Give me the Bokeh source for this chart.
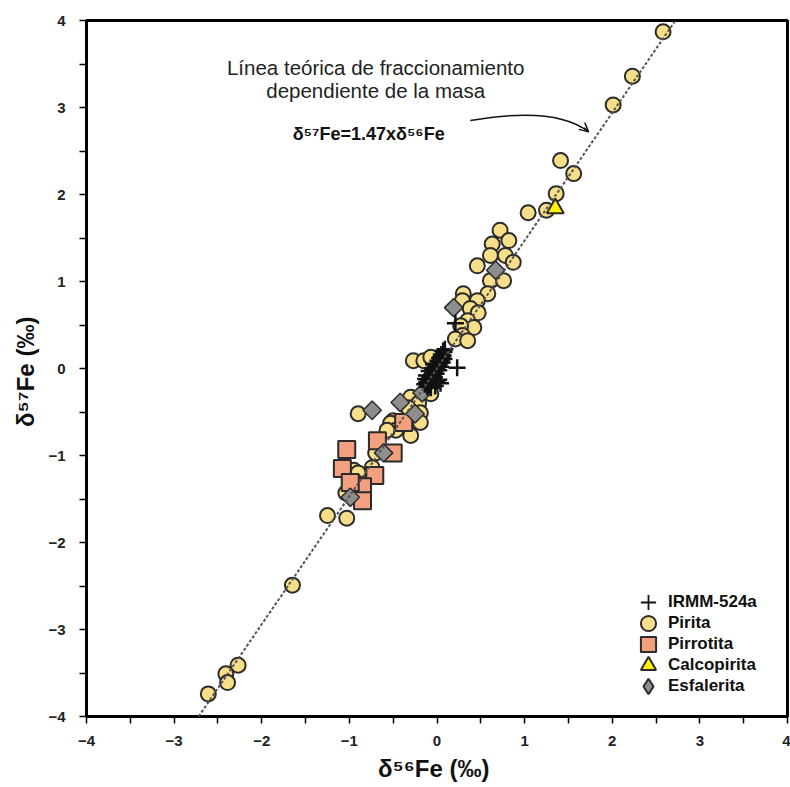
import math
from bokeh.plotting import figure
from bokeh.models import Range1d, FixedTicker, Slope, Legend, LegendItem, Label, Arrow, OpenHead
from bokeh.embed import file_html
from bokeh.resources import INLINE

# δ56Fe / δ57Fe (‰) by mineral
pirita_x = [2.58, 2.23, 2.01, 1.41, 1.56, 1.36, 1.25, 1.04, 0.72, 0.82, 0.63, 0.61, 0.78, 0.87,
            0.46, 0.61, 0.76, 0.58, 0.30, 0.29, 0.46, 0.38, 0.47, 0.35, 0.42, 0.27, 0.29, 0.21,
            0.35, -0.27, -0.15, -0.07, -0.10, -0.07, -0.30, -0.21, -0.33, -0.19, -0.19, -0.50,
            -0.53, -0.47, -0.57, -0.30, -0.90, -0.70, -0.74, -0.95, -0.90, -0.91, -1.04, -1.25,
            -1.03, -1.65, -2.27, -2.41, -2.39, -2.61]
pirita_y = [3.87, 3.36, 3.03, 2.39, 2.24, 2.01, 1.82, 1.79, 1.59, 1.47, 1.43, 1.30, 1.30, 1.22,
            1.18, 1.01, 1.01, 0.86, 0.86, 0.78, 0.78, 0.69, 0.64, 0.55, 0.47, 0.49, 0.38, 0.34,
            0.32, 0.09, 0.09, 0.13, -0.23, -0.29, -0.33, -0.40, -0.45, -0.51, -0.62, -0.60,
            -0.63, -0.71, -0.71, -0.77, -0.52, -0.97, -1.14, -1.17, -1.20, -1.32, -1.43, -1.69,
            -1.72, -2.49, -3.41, -3.51, -3.61, -3.74]

pirrotita_x = [-1.03, -1.08, -0.68, -0.50, -0.38, -0.71, -0.85, -0.85, -0.99]
pirrotita_y = [-0.93, -1.15, -0.83, -0.97, -0.62, -1.23, -1.36, -1.52, -1.31]

esfalerita_x = [0.67, 0.19, -0.17, -0.42, -0.74, -0.25, -0.61, -0.99]
esfalerita_y = [1.13, 0.70, -0.28, -0.39, -0.48, -0.52, -0.97, -1.48]

calcopirita_x = [1.35]
calcopirita_y = [1.84]

irmm_x = [-0.14, -0.12, -0.11, -0.10, -0.09, -0.08, -0.08, -0.07, -0.06, -0.06, -0.05, -0.05,
          -0.04, -0.04, -0.03, -0.03, -0.02, -0.02, -0.01, -0.01, 0.00, 0.00, 0.01, 0.01, 0.02,
          0.02, 0.03, 0.03, 0.04, 0.05, 0.05, 0.06, 0.07, 0.08, -0.10, -0.13, 0.00, 0.23, 0.21,
          -0.02, -0.11, -0.08, -0.06, -0.03, -0.01, 0.02, 0.04, 0.06, 0.08, -0.12, -0.09, -0.05,
          -0.02, 0.01, 0.03, 0.05, 0.07, 0.09, 0.04, -0.07, 0.02, -0.04]
irmm_y = [-0.18, -0.16, -0.17, -0.14, -0.12, -0.10, -0.13, -0.09, -0.07, -0.10, -0.06, -0.08,
          -0.05, -0.03, -0.04, -0.01, -0.02, 0.01, 0.00, 0.02, 0.01, 0.03, 0.03, 0.05, 0.04,
          0.06, 0.06, 0.08, 0.07, 0.10, 0.12, 0.13, 0.15, 0.19, -0.19, -0.12, -0.15, 0.01, 0.52,
          -0.20, -0.21, -0.18, -0.14, -0.10, -0.06, -0.02, 0.02, 0.07, 0.11, -0.08, -0.03, 0.00,
          0.05, 0.09, 0.12, 0.16, 0.20, 0.22, -0.17, -0.22, -0.13, 0.05]

# mass-dependent fractionation line
slope_57_56 = 1.47

major_ticks = [-4, -3, -2, -1, 0, 1, 2, 3, 4]
minor_ticks = [-3.5, -2.5, -1.5, -0.5, 0.5, 1.5, 2.5, 3.5]

FONT = "Liberation Sans"
EDGE = "#2b2b2b"

p = figure(width=790, height=787, x_range=Range1d(-4, 4), y_range=Range1d(-4, 4),
           output_backend="svg", toolbar_location=None,
           min_border_left=86, min_border_right=3, min_border_top=20, min_border_bottom=71)
p.background_fill_color = "white"
p.border_fill_color = "white"
p.outline_line_color = "black"
p.outline_line_width = 3
p.xgrid.visible = False
p.ygrid.visible = False

for ax in (p.xaxis[0], p.yaxis[0]):
    ax.ticker = FixedTicker(ticks=major_ticks, minor_ticks=minor_ticks)
    ax.axis_line_width = 3
    ax.axis_line_color = "black"
    ax.major_tick_line_color = "black"
    ax.minor_tick_line_color = "black"
    ax.major_tick_line_width = 1.5
    ax.minor_tick_line_width = 1.5
    ax.major_tick_in = 0
    ax.minor_tick_in = 0
    ax.major_tick_out = 7
    ax.minor_tick_out = 7
    ax.major_label_text_font = FONT
    ax.major_label_text_font_style = "bold"
    ax.major_label_text_font_size = "15px"
    ax.major_label_text_color = "#222222"
    ax.axis_label_text_font = FONT
    ax.axis_label_text_font_style = "bold"
    ax.axis_label_text_font_size = "24px"
    ax.axis_label_text_color = "#111111"

p.xaxis.axis_label = "δ⁵⁶Fe  (‰)"
p.yaxis.axis_label = "δ⁵⁷Fe  (‰)"
p.xaxis.major_label_standoff = 12
p.yaxis.major_label_standoff = 14
p.xaxis.axis_label_standoff = 6
p.yaxis.axis_label_standoff = 6

p.add_layout(Slope(gradient=slope_57_56, y_intercept=0, line_color="#555555",
                   line_width=2, line_dash="3 2"))

r_pir = p.scatter(pirita_x, pirita_y, marker="circle", size=15, fill_color="#F6DF88",
                  line_color=EDGE, line_width=2)
r_pirr = p.scatter(pirrotita_x, pirrotita_y, marker="square", size=17, fill_color="#F2A07E",
                   line_color=EDGE, line_width=2)
r_esf = p.scatter(esfalerita_x, esfalerita_y, marker="square", angle=math.pi / 4, size=13,
                  fill_color="#8E8E8E", line_color=EDGE, line_width=1.5)
r_cal = p.scatter(calcopirita_x, calcopirita_y, marker="triangle", size=17, fill_color="#FFF200",
                  line_color=EDGE, line_width=2)
r_irmm = p.scatter(irmm_x, irmm_y, marker="cross", size=17, line_color="#111111", line_width=2.5)

# legend-only symbols (legend draws markers unrotated, so use a diamond here)
leg_irmm = p.scatter(irmm_x[:1], irmm_y[:1], marker="cross", size=16, line_color="#111111",
                     line_width=1.8, visible=False)
leg_esf = p.scatter(esfalerita_x[:1], esfalerita_y[:1], marker="diamond", size=18,
                    fill_color="#8E8E8E", line_color=EDGE, line_width=2, visible=False)

# one single-entry legend per row, so symbols can be large while rows stay tight
legend_rows = [("IRMM-524a", leg_irmm), ("Pirita", r_pir), ("Pirrotita", r_pirr),
               ("Calcopirita", r_cal), ("Esfalerita", leg_esf)]
row_offsets = [95, 74, 53, 32, 11]
for (name, rend), dy in zip(legend_rows, row_offsets):
    lg = Legend(items=[LegendItem(label=name, renderers=[rend])], location=(543, dy))
    lg.border_line_color = None
    lg.background_fill_alpha = 0
    lg.label_text_font = FONT
    lg.label_text_font_style = "bold"
    lg.label_text_font_size = "17px"
    lg.label_text_color = "#111111"
    lg.margin = 0
    lg.padding = 4
    lg.label_height = 38
    lg.glyph_height = 38
    lg.glyph_width = 38
    lg.label_standoff = 1
    p.add_layout(lg)

# annotation text and curved arrow pointing at the line
p.add_layout(Label(x=-0.70, y=3.46, text="Línea teórica de fraccionamiento",
                   text_align="center", text_baseline="middle", text_font=FONT,
                   text_font_size="20.5px", text_color="#222222"))
p.add_layout(Label(x=-0.70, y=3.20, text="dependiente de la masa",
                   text_align="center", text_baseline="middle", text_font=FONT,
                   text_font_size="20.5px", text_color="#222222"))
p.add_layout(Label(x=-0.78, y=2.69, text="δ⁵⁷Fe=1.47xδ⁵⁶Fe",
                   text_align="center", text_baseline="middle", text_font=FONT,
                   text_font_style="bold", text_font_size="18px", text_color="#111111"))

p.quadratic(x0=[0.38], y0=[2.85], x1=[1.73], y1=[2.72], cx=[1.35], cy=[3.02],
            line_color="#111111", line_width=1.5)
p.add_layout(Arrow(end=OpenHead(size=9, line_width=1.5, line_color="#111111"),
                   x_start=1.676, y_start=2.767, x_end=1.73, y_end=2.72,
                   line_color="#111111", line_width=1.5))

open("out.html", "w").write(file_html(p, INLINE))
